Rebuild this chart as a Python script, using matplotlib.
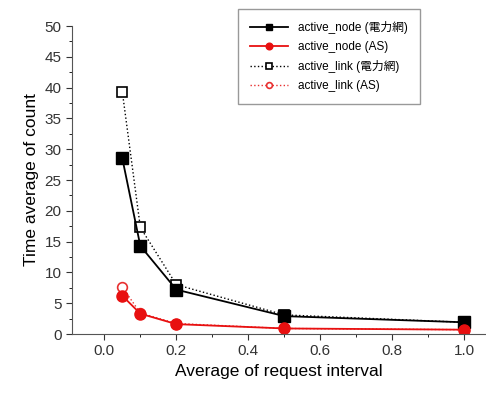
import matplotlib.pyplot as plt
from matplotlib.ticker import MultipleLocator

plt.rcParams['font.family'] = ['Liberation Sans', 'Noto Sans CJK JP', 'DejaVu Sans']

interval = [0.05, 0.1, 0.2, 0.5, 1.0]
node_grid = [28.5, 14.3, 7.2, 2.9, 1.9]
node_as = [6.2, 3.3, 1.6, 0.9, 0.7]
link_grid = [39.3, 17.3, 8.0, 3.1, 1.9]
link_as = [7.6, 3.4, 1.7, 0.9, 0.7]

labels = ['active_node (電力網)', 'active_node (AS)',
          'active_link (電力網)', 'active_link (AS)']

fig = plt.figure(figsize=(4.86, 4.0), dpi=100)
ax = fig.add_axes([0.148, 0.165, 0.852, 0.77])

ax.plot(interval, link_grid, ':', color='black', lw=1, marker='s', ms=7,
        mfc='white', mec='black', mew=1.2, label=labels[2])
ax.plot(interval, link_as, ':', color='#e83030', lw=1, marker='o', ms=7,
        mfc='white', mec='#e83030', mew=1.2, label=labels[3])
ax.plot(interval, node_grid, '-', color='black', lw=1.3, marker='s', ms=8,
        label=labels[0])
ax.plot(interval, node_as, '-', color='#e81010', lw=1.3, marker='o', ms=8,
        label=labels[1])

ax.set_xlim(-0.09, 1.06)
ax.set_ylim(0, 50)
ax.xaxis.set_major_locator(MultipleLocator(0.2))
ax.xaxis.set_minor_locator(MultipleLocator(0.1))
ax.yaxis.set_major_locator(MultipleLocator(5))
ax.yaxis.set_minor_locator(MultipleLocator(2.5))
ax.tick_params(labelsize=11, colors='#333333', length=4)
ax.tick_params(which='minor', length=2.5)
for s in ['top', 'right']:
    ax.spines[s].set_visible(False)
for s in ['left', 'bottom']:
    ax.spines[s].set_color('#555555')

ax.set_xlabel('Average of request interval', fontsize=12.5)
ax.set_ylabel('Time average of count', fontsize=12.5)

h, l = ax.get_legend_handles_labels()
order = [2, 3, 0, 1]
leg = ax.legend([h[i] for i in order], [l[i] for i in order],
                loc='upper left', bbox_to_anchor=(0.477, 0.9925),
                bbox_transform=fig.transFigure,
                fontsize=8.5, markerscale=0.6, handlelength=3.3,
                fancybox=False, edgecolor='#999999', framealpha=1,
                borderpad=1.0, labelspacing=0.6)

fig.savefig('out.png', dpi=100)
